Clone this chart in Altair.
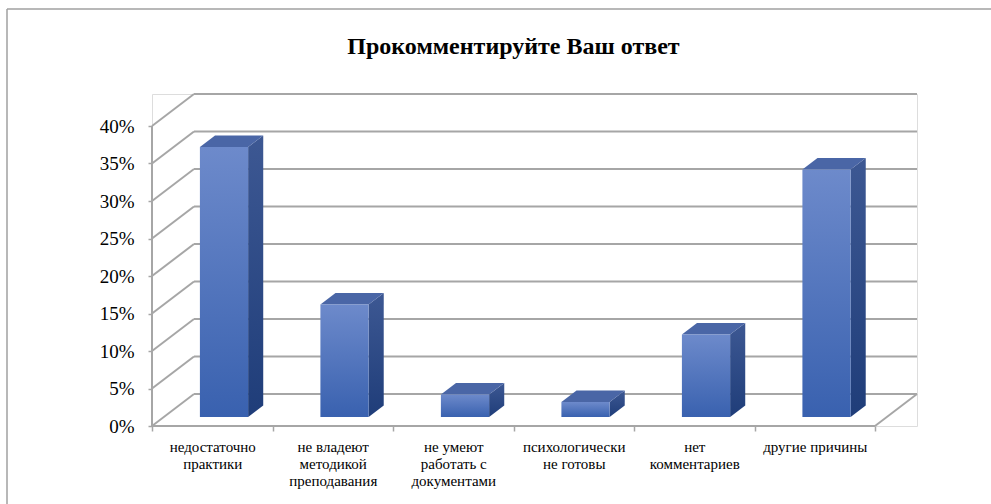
import json
import altair as alt
import pandas as pd

# ---------------- data ----------------
categories = [
    "недостаточно\nпрактики",
    "не владеют\nметодикой\nпреподавания",
    "не умеют\nработать с\nдокументами",
    "психологически\nне готовы",
    "нет\nкомментариев",
    "другие причины",
]
values = [36, 15, 3, 2, 11, 33]          # percent
y_ticks = [0, 5, 10, 15, 20, 25, 30, 35, 40]
title_text = "Прокомментируйте Ваш ответ"

# ---------------- 3-D box geometry (in axis units) ----------------
n = len(categories)
y_max = max(y_ticks)
PX_CAT = 120.5          # px per category on the front edge
PX_PCT = 7.5            # px per percent
DX = 42 / PX_CAT        # depth shift of the back wall along x
DY = 32 / PX_PCT        # depth shift of the back wall along y
F1, F2 = 0.28, 0.64     # depth fraction of bar front / back faces
BAR_W = 0.4             # bar width in category units

W = round((n + DX) * PX_CAT)
H = round((y_max + DY) * PX_PCT)
PAD_L, PAD_B = 152, 78
PAD_T = 504 - PAD_B - H

GRID = "#a6a6a6"

# gridlines: back wall horizontals, left wall diagonals, floor edges, front axis line
rows = []
for v in y_ticks:
    rows.append({"x": DX, "x2": n + DX, "y": v + DY, "y2": v + DY})
    rows.append({"x": 0, "x2": DX, "y": v, "y2": v + DY})
rows.append({"x": 0, "x2": n, "y": 0, "y2": 0})
rows.append({"x": n, "x2": n + DX, "y": 0, "y2": DY})
rows.append({"x": 0, "x2": 0, "y": 0, "y2": y_max})
lines = pd.DataFrame(rows)

front_rows, side_rows, top_rows = [], [], []
for i, (c, v) in enumerate(zip(categories, values)):
    xl = i + 0.5 - BAR_W / 2 + F1 * DX
    xr = i + 0.5 + BAR_W / 2 + F1 * DX
    base = F1 * DY
    front_rows.append({"cat": c, "x": xl, "x2": xr, "y": base, "y2": v + base})
    d = F2 - F1
    for t in (0, 1):
        side_rows.append({"cat": c, "x": xr + t * d * DX,
                          "y": base + t * d * DY, "y2": v + base + t * d * DY})
        top_rows.append({"cat": c, "y": v + base + t * d * DY,
                         "x": xl + t * d * DX, "x2": xr + t * d * DX})
front = pd.DataFrame(front_rows)
side = pd.DataFrame(side_rows)
top = pd.DataFrame(top_rows)

# ---------------- scales & axes ----------------
names_js = json.dumps([c.replace("\n", "|") for c in categories], ensure_ascii=False)
x_scale = alt.Scale(domain=[0, n + DX], nice=False, zero=False)
y_scale = alt.Scale(domain=[0, y_max + DY], nice=False, zero=False)
x_axis = alt.Axis(
    values=list(range(n + 1)), title=None, grid=False, domain=False,
    tickSize=5, tickColor=GRID, tickWidth=1.5,
    labelExpr=f"datum.value < {n} ? split({names_js}[datum.value], '|') : ''",
    labelOffset=PX_CAT / 2, labelPadding=8, labelBaseline="top",
    labelFont="Liberation Serif", labelFontSize=15, labelLineHeight=17,
    labelColor="black", labelOverlap=False, labelFlush=False, labelAlign="center",
)
y_axis = alt.Axis(
    values=y_ticks, title=None, grid=False, domain=False,
    tickSize=4, tickColor=GRID, tickWidth=1.5,
    labelExpr="datum.value + '%'", labelPadding=14,
    labelFont="Liberation Serif", labelFontSize=19, labelColor="black",
)

def X(f="x"):
    return alt.X(f"{f}:Q", scale=x_scale, axis=x_axis, title=None, stack=None)

def Y(f="y"):
    return alt.Y(f"{f}:Q", scale=y_scale, axis=y_axis, title=None, stack=None)

grid_layer = alt.Chart(lines).mark_rule(color=GRID, strokeWidth=2).encode(
    x=X(), x2="x2:Q", y=Y(), y2="y2:Q")

front_grad = alt.Gradient(
    gradient="linear", x1=0, x2=0, y1=0, y2=1,
    stops=[alt.GradientStop(color="#6d8acb", offset=0),
           alt.GradientStop(color="#3961af", offset=1)])
side_grad = alt.Gradient(
    gradient="linear", x1=0, x2=0, y1=0, y2=1,
    stops=[alt.GradientStop(color="#3d5893", offset=0),
           alt.GradientStop(color="#1f3d79", offset=1)])

front_layer = alt.Chart(front).mark_rect(color=front_grad).encode(
    x=X(), x2="x2:Q", y=Y(), y2="y2:Q")
side_layer = alt.Chart(side).mark_area(color=side_grad, interpolate="linear").encode(
    x=X(), y=Y(), y2="y2:Q", detail="cat:N")
top_layer = alt.Chart(top).mark_area(color="#4a66a6", orient="horizontal",
                                     interpolate="linear").encode(
    y=Y(), x=X(), x2="x2:Q", detail="cat:N")

# title and outer frame of the picture (frame partly outside the window, as in the reference)
one = pd.DataFrame({"k": [0]})
title_layer = alt.Chart(one).mark_text(
    font="Liberation Serif", fontSize=24, fontWeight="bold", color="black",
    align="center", baseline="alphabetic").encode(
    x=alt.value(513.5 - PAD_L), y=alt.value(54 - PAD_T), text=alt.value(title_text))
frame_top = alt.Chart(one).mark_rule(color="#a0a0a0", strokeWidth=1.5).encode(
    x=alt.value(7 - PAD_L), x2=alt.value(1000), y=alt.value(9 - PAD_T))
frame_left = alt.Chart(one).mark_rule(color="#a0a0a0", strokeWidth=1.5).encode(
    x=alt.value(7 - PAD_L), y=alt.value(9 - PAD_T), y2=alt.value(600))

chart = alt.layer(
    grid_layer, side_layer, top_layer, front_layer, frame_top, frame_left, title_layer
).properties(
    width=W, height=H,
    autosize=alt.AutoSizeParams(type="none"),
    padding={"left": PAD_L, "top": PAD_T, "right": 991 - PAD_L - W, "bottom": PAD_B},
).configure_view(stroke=None).configure(background="white")

chart.save("out.html", embed_options={"renderer": "svg", "actions": False})
